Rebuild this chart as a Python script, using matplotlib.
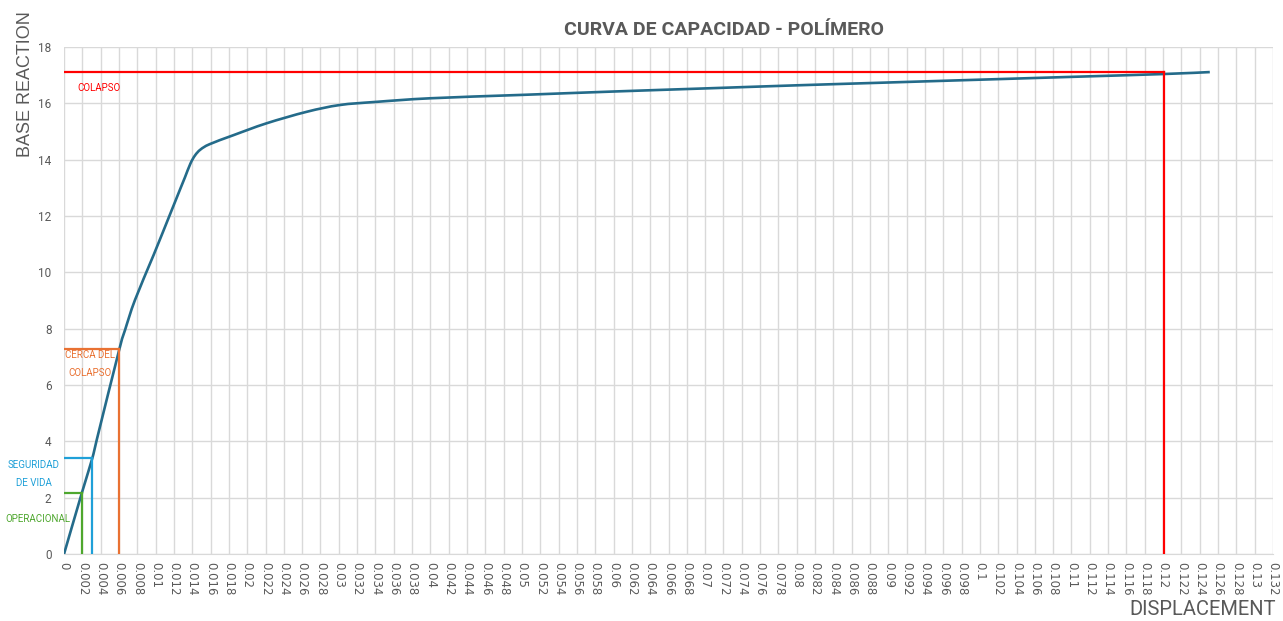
import numpy as np
import matplotlib.pyplot as plt
from matplotlib.path import Path
from matplotlib.patches import PathPatch
from matplotlib.ticker import MultipleLocator, FuncFormatter
from matplotlib.transforms import Bbox

# Capacity curve (displacement vs base reaction)
displacement = [0, 0.00193, 0.00309, 0.00357, 0.00604, 0.00666, 0.00775, 0.0098,
                0.0116, 0.0127, 0.0132, 0.0138, 0.0143, 0.0149, 0.0159, 0.0185,
                0.0221, 0.0265, 0.0301, 0.0340, 0.0400, 0.0500, 0.0600, 0.0700,
                0.0800, 0.0900, 0.1000, 0.1100, 0.1200, 0.1251]
base_reaction = [0, 2.15, 3.40, 4.05, 7.27, 7.95, 9.02, 10.63,
                 12.08, 12.97, 13.37, 13.86, 14.15, 14.36, 14.55, 14.87,
                 15.29, 15.70, 15.94, 16.05, 16.18, 16.30, 16.42, 16.53,
                 16.64, 16.74, 16.84, 16.94, 17.04, 17.11]

# Performance levels
levels = ["OPERACIONAL", "SEGURIDAD\nDE VIDA", "CERCA DEL\nCOLAPSO", "COLAPSO"]
level_disp = [0.00193, 0.00309, 0.00604, 0.1201]
level_force = [2.15, 3.40, 7.27, 17.11]
level_colors = ["#4ea72e", "#1fa0d8", "#e97132", "#ff0000"]

GRAY = "#595959"
FONT = ["Roboto", "DejaVu Sans"]


def smooth_path(xs, ys, tension=1 / 6):
    """Catmull-Rom style bezier through the points, like a spreadsheet smoothed line."""
    pts = np.column_stack([xs, ys])
    verts = [pts[0]]
    codes = [Path.MOVETO]
    n = len(pts)
    for i in range(n - 1):
        p0 = pts[max(i - 1, 0)]
        p1 = pts[i]
        p2 = pts[i + 1]
        p3 = pts[min(i + 2, n - 1)]
        c1 = p1 + (p2 - p0) * tension
        c2 = p2 - (p3 - p1) * tension
        verts += [c1, c2, p2]
        codes += [Path.CURVE4] * 3
    return Path(verts, codes)


fig = plt.figure(figsize=(12.83, 6.21), dpi=100)
ax = fig.add_axes([0.0499, 0.1079, 0.9423, 0.8164])

ax.add_patch(PathPatch(smooth_path(displacement, base_reaction), facecolor="none",
                       edgecolor="#246b8a", lw=1.9, zorder=3))

for d, f, c in zip(level_disp, level_force, level_colors):
    ax.plot([0, d], [f, f], color=c, lw=1.6, zorder=4)
    ax.plot([d, d], [f, 0], color=c, lw=1.6, zorder=4)

# level labels
ax.text(0.0038, 16.55, levels[3], color=level_colors[3], fontsize=7,
        ha="center", va="center", family=FONT)
ax.text(0.0028, 6.75, levels[2], color=level_colors[2], fontsize=7,
        ha="center", va="center", family=FONT, linespacing=2.0)
ax.text(-0.0033, 2.85, levels[1], color=level_colors[1], fontsize=7,
        ha="center", va="center", family=FONT, linespacing=2.0, clip_on=False)
op = ax.text(-0.00285, 1.25, levels[0], color=level_colors[0], fontsize=7,
             ha="center", va="center", family=FONT)
op.set_clip_box(Bbox([[10, 0], [1283, 621]]))

ax.set_xlim(0, 0.132)
ax.set_ylim(0, 18)
ax.xaxis.set_major_locator(MultipleLocator(0.002))
ax.yaxis.set_major_locator(MultipleLocator(2))
ax.xaxis.set_major_formatter(FuncFormatter(lambda v, p: format(round(v, 3), "g")))
ax.grid(True, color="#d9d9d9", lw=1.0)
ax.set_axisbelow(True)
for side in ["top", "right", "left"]:
    ax.spines[side].set_visible(False)
ax.spines["bottom"].set_color("#d9d9d9")
ax.tick_params(axis="both", length=0, colors=GRAY)
ax.tick_params(axis="x", pad=6, labelsize=8.5)
ax.tick_params(axis="y", pad=9, labelsize=8.5)
for lbl in ax.get_xticklabels():
    lbl.set_rotation(-90)
for lbl in ax.get_yticklabels():
    lbl.set_family(FONT)

fig.text(0.564, 0.952, "CURVA DE CAPACIDAD - POLÍMERO", fontsize=14,
         fontweight="bold", color=GRAY, family=FONT, ha="center", va="center")
fig.text(0.0195, 0.865, "BASE REACTION", rotation=90, fontsize=13,
         color=GRAY, ha="center", va="center", family=["Liberation Sans", "DejaVu Sans"])
fig.text(0.9945, 0.004, "DISPLACEMENT", fontsize=14.5, color=GRAY,
         ha="right", va="bottom", family=FONT)

fig.savefig("out.png", dpi=100, facecolor="white")
